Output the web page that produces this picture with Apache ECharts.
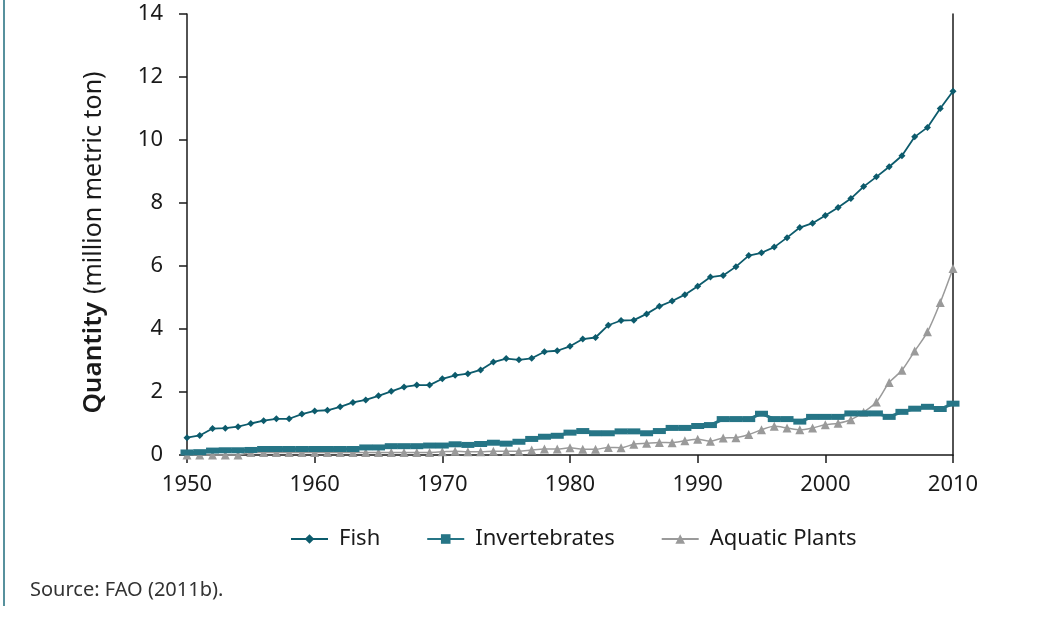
<!DOCTYPE html>
<html>
<head>
<meta charset="utf-8">
<title>Aquaculture production</title>
<script src="https://cdn.jsdelivr.net/npm/echarts@6/dist/echarts.min.js"></script>
<style>
    html, body { margin: 0; padding: 0; background: #fff; }
    #chart { width: 1062px; height: 620px; }
</style>
</head>
<body>
<div id="chart"></div>
<script>
// ======================
// DATOS
// ======================
const years = [
    1950, 1951, 1952, 1953, 1954, 1955, 1956, 1957, 1958, 1959,
    1960, 1961, 1962, 1963, 1964, 1965, 1966, 1967, 1968, 1969,
    1970, 1971, 1972, 1973, 1974, 1975, 1976, 1977, 1978, 1979,
    1980, 1981, 1982, 1983, 1984, 1985, 1986, 1987, 1988, 1989,
    1990, 1991, 1992, 1993, 1994, 1995, 1996, 1997, 1998, 1999,
    2000, 2001, 2002, 2003, 2004, 2005, 2006, 2007, 2008, 2009,
    2010
];

const fish = [
    0.55, 0.62, 0.84, 0.85, 0.90, 1.00, 1.09, 1.15, 1.15, 1.30,
    1.40, 1.42, 1.53, 1.67, 1.75, 1.88, 2.02, 2.16, 2.22, 2.22,
    2.42, 2.53, 2.58, 2.70, 2.95, 3.06, 3.02, 3.07, 3.28, 3.31,
    3.45, 3.68, 3.73, 4.12, 4.27, 4.28, 4.48, 4.72, 4.89, 5.09,
    5.36, 5.65, 5.70, 5.98, 6.33, 6.42, 6.60, 6.90, 7.22, 7.36,
    7.60, 7.86, 8.14, 8.52, 8.83, 9.15, 9.50, 10.10, 10.40, 11.00,
    11.55
];

const invertebrates = [
    0.08, 0.09, 0.14, 0.15, 0.15, 0.16, 0.19, 0.19, 0.19, 0.19,
    0.19, 0.19, 0.19, 0.19, 0.24, 0.24, 0.28, 0.28, 0.28, 0.30,
    0.30, 0.34, 0.32, 0.35, 0.39, 0.36, 0.42, 0.51, 0.58, 0.61,
    0.71, 0.76, 0.69, 0.69, 0.75, 0.75, 0.69, 0.76, 0.86, 0.86,
    0.92, 0.95, 1.14, 1.14, 1.14, 1.31, 1.14, 1.14, 1.06, 1.21,
    1.21, 1.21, 1.32, 1.32, 1.32, 1.21, 1.37, 1.47, 1.53, 1.46,
    1.63
];

const aquaticPlants = [
    0.00, 0.00, 0.00, 0.00, 0.00, 0.08, 0.08, 0.08, 0.08, 0.08,
    0.08, 0.08, 0.08, 0.08, 0.08, 0.08, 0.08, 0.08, 0.08, 0.08,
    0.10, 0.12, 0.10, 0.10, 0.12, 0.12, 0.12, 0.16, 0.19, 0.19,
    0.23, 0.18, 0.18, 0.24, 0.23, 0.34, 0.37, 0.40, 0.39, 0.45,
    0.50, 0.44, 0.54, 0.55, 0.65, 0.80, 0.91, 0.86, 0.80, 0.86,
    0.96, 1.01, 1.12, 1.36, 1.68, 2.30, 2.69, 3.30, 3.91, 4.84,
    5.92
];

const seriesNames = ["Fish", "Invertebrates", "Aquatic Plants"];
const sourceNote = "Source: FAO (2011b).";

// ======================
// COLORES
// ======================
const COLORS = {
    fish: "#0c5b6c",
    invert: "#267586",
    plants: "#9a9a9a",
    axis: "#1a1a1a",
    text: "#1a1a1a",
    frame: "#1f6c7c"
};

const FONT = "'Noto Sans', 'Open Sans', sans-serif";

const pairs = values => years.map((y, i) => [y, values[i]]);

const chart = echarts.init(document.getElementById("chart"));

chart.setOption({
    backgroundColor: "#ffffff",
    animation: false,
    textStyle: { fontFamily: FONT, color: COLORS.text },
    grid: {
        left: 187,
        right: 109,
        top: 14,
        bottom: 165
    },
    legend: {
        data: seriesNames,
        top: 523,
        left: 285,
        itemWidth: 37,
        itemHeight: 12,
        itemGap: 46,
        textStyle: { fontFamily: FONT, fontSize: 22, color: COLORS.text, padding: [0, 0, 0, 6] }
    },
    xAxis: {
        type: "value",
        min: 1950,
        max: 2010,
        interval: 10,
        splitLine: { show: false },
        axisLine: { show: true, lineStyle: { color: COLORS.axis, width: 1.5 } },
        axisTick: { show: true, inside: false, length: 8, lineStyle: { color: COLORS.axis, width: 1.5 } },
        axisLabel: { fontFamily: FONT, fontSize: 22, color: COLORS.text, margin: 19, formatter: v => String(v) }
    },
    yAxis: [{
        type: "value",
        min: 0,
        max: 14,
        interval: 2,
        name: "{b|Quantity}{n|(million metric ton)}",
        nameLocation: "middle",
        nameRotate: 90,
        nameGap: 80,
        nameTextStyle: {
            rich: {
                b: { fontFamily: FONT, fontSize: 26, fontWeight: 600, color: COLORS.text, padding: [0, 8, 0, 0] },
                n: { fontFamily: FONT, fontSize: 25, color: COLORS.text, padding: [0, 16, 0, 0] }
            }
        },
        splitLine: { show: false },
        axisLine: { show: true, lineStyle: { color: COLORS.axis, width: 1.5 } },
        axisTick: { show: true, inside: false, length: 8, lineStyle: { color: COLORS.axis, width: 1.5 } },
        axisLabel: { fontFamily: FONT, fontSize: 22, color: COLORS.text, margin: 24 }
    }, {
        type: "value",
        position: "right",
        min: 0,
        max: 14,
        interval: 2,
        splitLine: { show: false },
        axisLine: { show: true, lineStyle: { color: COLORS.axis, width: 1.5 } },
        axisTick: { show: false },
        axisLabel: { show: false }
    }],
    graphic: [{
        type: "line",
        shape: { x1: 4, y1: 0, x2: 4, y2: 606 },
        style: { stroke: COLORS.frame, lineWidth: 1.5 }
    }, {
        type: "text",
        left: 30,
        top: 580,
        style: { text: sourceNote, fontFamily: FONT, fontSize: 20, fill: "#333333" }
    }],
    series: [{
        name: "Aquatic Plants",
        type: "line",
        data: pairs(aquaticPlants),
        smooth: 0.3,
        clip: false,
        symbol: "triangle",
        symbolSize: 9,
        itemStyle: { color: COLORS.plants },
        lineStyle: { color: COLORS.plants, width: 1.5 },
        z: 2
    }, {
        name: "Invertebrates",
        type: "line",
        data: pairs(invertebrates),
        clip: false,
        symbol: "rect",
        symbolSize: [13, 6],
        itemStyle: { color: COLORS.invert },
        lineStyle: { color: COLORS.invert, width: 3 },
        z: 3
    }, {
        name: "Fish",
        type: "line",
        data: pairs(fish),
        clip: false,
        symbol: "diamond",
        symbolSize: 7,
        itemStyle: { color: COLORS.fish },
        lineStyle: { color: COLORS.fish, width: 1.8 },
        z: 4
    }]
});

window.addEventListener("resize", () => chart.resize());
</script>
</body>
</html>
